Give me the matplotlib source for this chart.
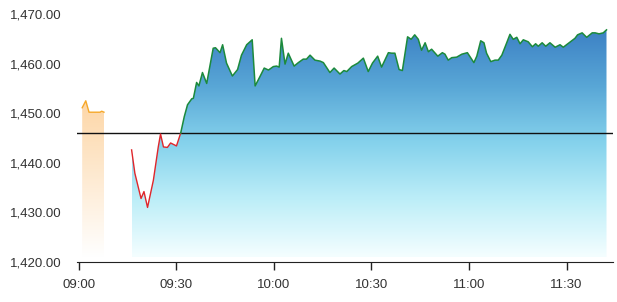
import numpy as np
import matplotlib
matplotlib.use("Agg")
import matplotlib.pyplot as plt
from matplotlib.colors import LinearSegmentedColormap
from matplotlib.ticker import FuncFormatter

# minutes after 09:00
pre_t=[1.0,2.1,3.1,4.4,6.5,7.0,7.7]
pre_v=[1451.1,1452.5,1450.2,1450.2,1450.2,1450.4,1450.2]

t=[16.2,17.2,19.1,20.0,21.1,22.9,24.4,25.1,26.0,27.2,28.2,30.0,31.3,
32.4,33.4,34.7,35.2,36.2,36.9,38.0,39.3,41.3,42.0,43.4,44.2,45.4,47.2,
48.8,50.0,51.6,53.3,54.2,55.7,57.0,58.3,59.8,60.8,61.6,62.3,63.4,64.4,
66.2,67.5,69.0,70.0,71.1,72.6,74.2,75.2,77.2,78.5,80.3,81.5,82.4,83.9,
85.8,87.5,89.0,90.3,91.9,93.1,95.2,96.2,97.2,98.5,99.5,101.1,102.2,103.3,
104.4,105.4,106.5,107.5,108.5,110.4,111.8,112.6,113.6,114.7,116.2,117.8,
119.5,120.3,121.5,122.4,123.6,124.6,125.4,126.7,128.0,129.0,130.1,131.6,
132.6,133.6,134.7,135.7,136.7,138.2,139.5,140.5,141.3,142.5,143.6,144.9,
146.5,148.0,149.0,150.8,152.6,153.4,154.8,156.2,157.9,158.8,160.0,161.3,162.3]
v=[1442.6,1437.9,1432.8,1434.2,1431.0,1436.5,1443.2,1445.8,1443.2,1443.1,1444.0,1443.4,1446.0,
1449.3,1451.7,1452.9,1453.0,1456.2,1455.5,1458.2,1456.0,1463.1,1463.2,1462.2,1463.8,1460.1,1457.5,
1458.8,1461.7,1463.8,1464.8,1455.5,1457.4,1459.1,1458.7,1459.4,1459.5,1459.3,1465.1,1459.9,1462.1,
1459.5,1460.2,1460.9,1460.9,1461.7,1460.7,1460.5,1460.2,1458.2,1459.1,1457.9,1458.6,1458.4,1459.4,
1460.1,1461.1,1458.4,1460.1,1461.5,1459.3,1462.2,1462.1,1462.1,1458.8,1458.6,1465.4,1464.9,1465.8,
1464.9,1462.7,1464.2,1462.4,1462.9,1461.5,1462.2,1461.9,1460.7,1461.2,1461.3,1461.9,
1462.2,1461.4,1460.2,1461.5,1464.6,1464.2,1462.1,1460.4,1460.7,1460.7,1461.7,1464.2,
1465.9,1464.9,1465.3,1464.0,1464.8,1464.4,1463.4,1464.0,1463.5,1464.2,1463.5,1464.2,
1463.3,1463.8,1463.3,1464.2,1465.1,1465.8,1466.2,1465.3,1466.2,1466.2,1466.0,1466.2,1466.8]

prev_close=1446.0
xticks=[0,30,60,90,120,150]
xlabels=["09:00","09:30","10:00","10:30","11:00","11:30"]

t=np.array(t)
v=np.array(v)

fig=plt.figure(figsize=(6.17,3.02),dpi=100)
ax=fig.add_axes([77/617,40/302,536/617,(262-14)/302])

base=1421

blue=LinearSegmentedColormap.from_list("b",[
(0.0,"#f4feff"),(0.25,"#bdeef8"),(0.5,"#85d2ec"),(0.75,"#58a6d6"),(1.0,"#3c80c4")])
orange=LinearSegmentedColormap.from_list("o",["#ffffff","#fdd6a6"])

grad=np.linspace(0,1,256).reshape(-1,1)

poly=ax.fill_between(t,v,base,facecolor="none",edgecolor="none")
im=ax.imshow(grad,cmap=blue,origin="lower",aspect="auto",
extent=[t[0],t[-1],base,1467],zorder=1)
im.set_clip_path(poly.get_paths()[0],transform=ax.transData)

poly2=ax.fill_between(pre_t,pre_v,base,facecolor="none",edgecolor="none")
im2=ax.imshow(grad,cmap=orange,origin="lower",aspect="auto",
extent=[pre_t[0],pre_t[-1],base,1452.5],zorder=1)
im2.set_clip_path(poly2.get_paths()[0],transform=ax.transData)

ax.set_xlim(-0.6,164.3)
ax.set_ylim(1420,1470)

ax.axhline(prev_close,color="#111111",lw=1,zorder=2)

cross=12
ax.plot(t[:cross+1],v[:cross+1],color="#e0262b",lw=1,zorder=3)
ax.plot(t[cross:],v[cross:],color="#1c8a3c",lw=1.1,zorder=3)
ax.plot(pre_t,pre_v,color="#f6a829",lw=1,zorder=3)

for s in ["top","right","left"]:
    ax.spines[s].set_visible(False)
ax.spines["bottom"].set_color("#222222")

ax.set_xticks(xticks)
ax.set_xticklabels(xlabels)
ax.set_yticks([1420,1430,1440,1450,1460,1470])
ax.yaxis.set_major_formatter(FuncFormatter(lambda y,p:f"{y:,.2f}"))
ax.tick_params(axis="y",length=0,pad=11,labelsize=9.5,labelcolor="#333333")
ax.tick_params(axis="x",length=6,width=1,color="#222222",pad=6,labelsize=9.5,labelcolor="#333333")
for lab in ax.get_xticklabels()+ax.get_yticklabels():
    lab.set_family("Liberation Sans")

fig.savefig("out.png",dpi=100)
